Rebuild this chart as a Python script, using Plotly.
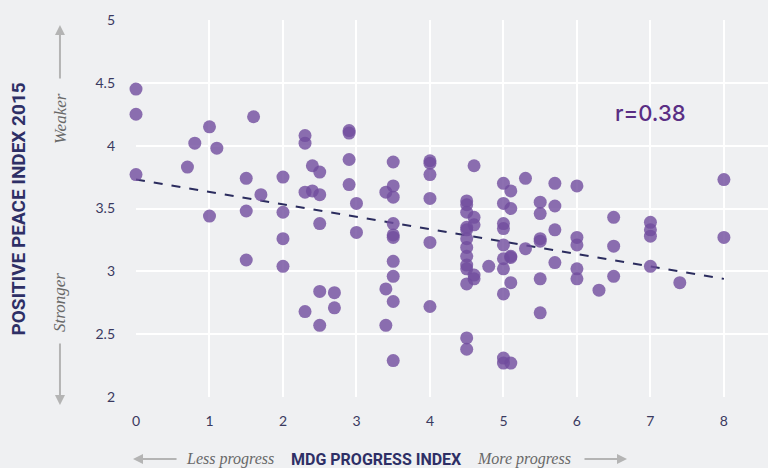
import plotly.graph_objects as go

# MDG progress index (x) vs Positive Peace Index 2015 (y), one point per country
mdg_progress = [
    0, 0, 0,
    0.7, 0.8, 1.0, 1.0, 1.1,
    1.5, 1.5, 1.5, 1.6, 1.7,
    2.0, 2.0, 2.0, 2.0,
    2.3, 2.3, 2.3, 2.3, 2.4, 2.4,
    2.5, 2.5, 2.5, 2.5, 2.5, 2.7, 2.7,
    2.9, 2.9, 2.9, 2.9, 3.0, 3.0,
    3.4, 3.4, 3.4,
    3.5, 3.5, 3.5, 3.5, 3.5, 3.5, 3.5, 3.5, 3.5, 3.5,
    4.0, 4.0, 4.0, 4.0, 4.0, 4.0,
    4.5, 4.5, 4.5, 4.5, 4.5, 4.5, 4.5, 4.5, 4.5, 4.5, 4.5, 4.5, 4.5,
    4.6, 4.6, 4.6, 4.6, 4.6, 4.8,
    5.0, 5.0, 5.0, 5.0, 5.0, 5.0, 5.0, 5.0, 5.0, 5.0,
    5.1, 5.1, 5.1, 5.1, 5.1, 5.1,
    5.3, 5.3,
    5.5, 5.5, 5.5, 5.5, 5.5, 5.5,
    5.7, 5.7, 5.7, 5.7,
    6.0, 6.0, 6.0, 6.0, 6.0, 6.3,
    6.5, 6.5, 6.5,
    7.0, 7.0, 7.0, 7.0, 7.4,
    8.0, 8.0,
]
positive_peace = [
    4.45, 4.25, 3.77,
    3.83, 4.02, 4.15, 3.44, 3.98,
    3.74, 3.48, 3.09, 4.23, 3.61,
    3.75, 3.47, 3.26, 3.04,
    4.08, 4.02, 3.63, 2.68, 3.84, 3.64,
    3.79, 3.61, 3.38, 2.84, 2.57, 2.83, 2.71,
    4.12, 4.10, 3.89, 3.69, 3.54, 3.31,
    3.63, 2.86, 2.57,
    3.87, 3.68, 3.59, 3.38, 3.29, 3.27, 3.08, 2.96, 2.76, 2.29,
    3.88, 3.86, 3.77, 3.58, 3.23, 2.72,
    3.56, 3.53, 3.47, 3.35, 3.33, 3.26, 3.19, 3.12, 3.05, 3.02, 2.90, 2.47, 2.38,
    3.84, 3.43, 3.37, 2.97, 2.94, 3.04,
    3.70, 3.54, 3.38, 3.34, 3.21, 3.10, 3.02, 2.82, 2.31, 2.27,
    3.64, 3.50, 3.12, 3.11, 2.91, 2.27,
    3.74, 3.18,
    3.55, 3.46, 3.26, 3.24, 2.94, 2.67,
    3.70, 3.52, 3.33, 3.07,
    3.68, 3.27, 3.21, 3.02, 2.94, 2.85,
    3.43, 3.20, 2.96,
    3.39, 3.33, 3.28, 3.04, 2.91,
    3.73, 3.27,
]

# Linear trend endpoints
trend_x = [0, 8]
trend_y = [3.73, 2.94]

x_ticks = [0, 1, 2, 3, 4, 5, 6, 7, 8]
y_ticks = [2, 2.5, 3, 3.5, 4, 4.5, 5]
y_tick_text = ["2", "2.5", "3", "3.5", "4", "4.5", "5"]

BG = "#eff0f2"
NAVY = "#2e2f66"
TICK = "#3a3960"
ARROW = "#b4b4b4"
HINT = "#686868"
SERIF = "Liberation Serif"

fig = go.Figure()

fig.add_trace(go.Scatter(
    x=trend_x, y=trend_y, mode="lines",
    line=dict(color="#2b2c5e", width=2, dash="dash"),
    hoverinfo="skip", showlegend=False,
))

fig.add_trace(go.Scatter(
    x=mdg_progress, y=positive_peace, mode="markers",
    marker=dict(size=13, color="rgb(112,76,158)", opacity=0.8,
                line=dict(width=0)),
    cliponaxis=False, showlegend=False,
))

fig.update_xaxes(
    range=[0, 8.6], tickvals=x_ticks, showgrid=True, gridcolor="white",
    gridwidth=2, zeroline=False, showline=False,
    tickfont=dict(family="Lato", size=14, color=TICK),
    ticklabelstandoff=14,
)
fig.update_yaxes(
    range=[2, 5], tickvals=y_ticks, ticktext=y_tick_text, showgrid=True,
    gridcolor="white", gridwidth=2, zeroline=False, showline=False,
    tickfont=dict(family="Lato", size=14, color=TICK),
    ticklabelstandoff=20,
)

annotations = [
    # axis titles
    dict(text="POSITIVE PEACE INDEX 2015", x=-0.1851, y=0.4973, textangle=-90,
         font=dict(family="Roboto", size=19, color=NAVY, weight="bold")),
    dict(text="MDG PROGRESS INDEX", x=0.3797, y=-0.1645,
         font=dict(family="Roboto", size=16, color=NAVY, weight="bold")),
    # direction hints
    dict(text="<i>Weaker</i>", x=-0.1203, y=0.740, textangle=-90,
         font=dict(family=SERIF, size=17, color=HINT)),
    dict(text="<i>Stronger</i>", x=-0.1203, y=0.252, textangle=-90,
         font=dict(family=SERIF, size=17, color=HINT)),
    dict(text="<i>Less progress</i>", x=0.148, y=-0.1645,
         font=dict(family=SERIF, size=16, color=HINT)),
    dict(text="<i>More progress</i>", x=0.614, y=-0.1645,
         font=dict(family=SERIF, size=16, color=HINT)),
]
for a in annotations:
    a.update(xref="paper", yref="paper", showarrow=False,
             xanchor="center", yanchor="middle")

# correlation label
annotations.append(dict(
    text="r=0.38", x=7.0, y=4.26, xref="x", yref="y", showarrow=False,
    xanchor="center", yanchor="middle",
    font=dict(family="Inter", size=22, color="#5a2e84", weight=500),
))

# grey arrows beside the axis hints
for x, y, ax, ay in [
    (-0.1203, 0.9867, 0, 55),
    (-0.1203, -0.0212, 0, -63),
    (-0.0047, -0.1645, 45, 0),
    (0.7769, -0.1645, -44, 0),
]:
    annotations.append(dict(
        x=x, y=y, xref="paper", yref="paper", ax=ax, ay=ay, text="",
        showarrow=True, arrowhead=2, arrowsize=1, arrowwidth=2,
        arrowcolor=ARROW,
    ))

fig.update_layout(
    width=768, height=468,
    margin=dict(l=136, r=0, t=20, b=71),
    paper_bgcolor=BG, plot_bgcolor=BG,
    annotations=annotations,
    showlegend=False,
)

fig.write_html("out.html")
